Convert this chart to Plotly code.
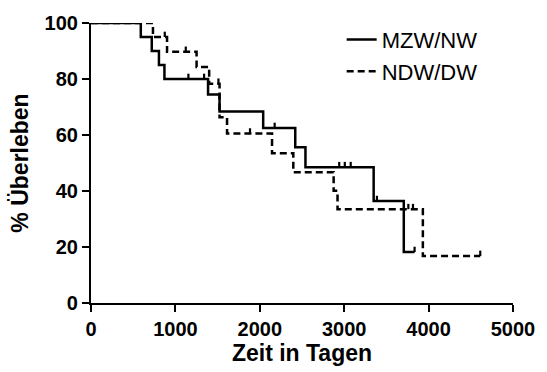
import numpy as np
import plotly.graph_objects as go

# ---- data (Kaplan-Meier curves) ----
mzw_time = [0, 590, 720, 805, 870, 1387, 1523, 2040, 2420, 2541, 3349, 3706, 3834]
mzw_surv = [100, 95, 90, 85, 80, 74.5, 68.4, 62.5, 55.6, 48.5, 36.4, 18.2, 18.2]
mzw_censored = [1154, 1340, 2176, 2941, 3007, 3077, 3388, 3834]

ndw_time = [0, 734, 901, 1251, 1400, 1523, 1612, 2145, 2397, 2875, 2921, 3932, 4612]
ndw_surv = [100, 95, 89.7, 84.3, 78.3, 66.3, 60.5, 53.5, 46.7, 40.1, 33.5, 16.8, 16.8]
ndw_censored = [874, 1123, 1510, 1884, 3760, 3815, 4612]

series_names = ["MZW/NW", "NDW/DW"]
x_ticks = [0, 1000, 2000, 3000, 4000, 5000]
y_ticks = [0, 20, 40, 60, 80, 100]

FONT = "Arial, Liberation Sans, sans-serif"
TICK_UP = 1.9  # censor tick length in % units


def surv_at(times, surv, t):
    idx = np.searchsorted(np.asarray(times), t, side="right") - 1
    return float(np.asarray(surv)[idx])


fig = go.Figure()

styles = [dict(color="black", width=2.5), dict(color="black", width=2.5, dash="7px,4px")]
for name, times, surv, cens, ls in [
    (series_names[0], mzw_time, mzw_surv, mzw_censored, styles[0]),
    (series_names[1], ndw_time, ndw_surv, ndw_censored, styles[1]),
]:
    fig.add_trace(go.Scatter(x=times, y=surv, mode="lines", line=ls,
                             line_shape="hv", name=name, cliponaxis=False))
    cy = [surv_at(times, surv, c) for c in cens]
    fig.add_trace(go.Scatter(
        x=cens, y=cy, mode="markers", marker=dict(size=1, opacity=0),
        showlegend=False, cliponaxis=False, hoverinfo="skip",
        error_y=dict(type="data", symmetric=False, array=[TICK_UP] * len(cens),
                     arrayminus=[0] * len(cens), width=0, thickness=2.2, color="black"),
    ))

axis_common = dict(showline=True, linecolor="black", linewidth=2.2, ticks="outside",
                   ticklen=7, tickwidth=2.2, tickcolor="black", showgrid=False,
                   zeroline=False,
                   tickfont=dict(family=FONT, size=20, color="black", weight="bold"))

fig.update_layout(
    width=547, height=372,
    margin=dict(l=91, r=27, t=17, b=69),
    paper_bgcolor="white", plot_bgcolor="white",
    xaxis=dict(range=[0, 5000], tickvals=x_ticks,
               title=dict(text="Zeit in Tagen", standoff=3,
                          font=dict(family=FONT, size=23, color="black", weight="bold")),
               **axis_common),
    yaxis=dict(range=[0, 100], tickvals=y_ticks,
               title=dict(text="% Überleben", standoff=9,
                          font=dict(family=FONT, size=23, color="black", weight="bold")),
               **axis_common),
    legend=dict(x=0.594, y=1.015, xanchor="left", yanchor="top",
                font=dict(family=FONT, size=22, color="black"),
                bgcolor="rgba(0,0,0,0)", tracegroupgap=0, itemwidth=30),
    showlegend=True,
)

fig.write_html("out.html")
